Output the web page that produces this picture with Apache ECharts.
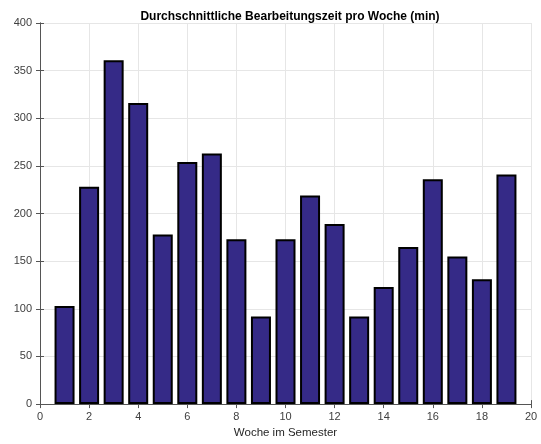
<!DOCTYPE html>
<html>
<head>
<meta charset="utf-8">
<script src="https://cdn.jsdelivr.net/npm/echarts@6/dist/echarts.min.js"></script>
<style>
  html, body { margin: 0; padding: 0; background: #fff; }
  #chart { width: 541px; height: 444px; }
</style>
</head>
<body>
<div id="chart"></div>
<script>
// Woche im Semester / Minuten
const weeks = [1, 2, 3, 4, 5, 6, 7, 8, 9, 10, 11, 12, 13, 14, 15, 16, 17, 18, 19]
const minutes = [103, 228, 361, 316, 178, 254, 263, 173, 92, 173, 219, 189, 92, 123, 165, 236, 155, 131, 241]

const font = 'Liberation Sans, Arial, sans-serif'
const gridColor = '#e6e6e6'
const axisColor = '#555'

const chart = echarts.init(document.getElementById('chart'))

const hiddenAxis = {
  axisLine: { show: true, lineStyle: { color: axisColor, width: 1 } },
  axisTick: { show: true, inside: true, length: 4, lineStyle: { color: axisColor } },
  axisLabel: { show: false },
  splitLine: { show: false }
}

chart.setOption({
  animation: false,
  title: {
    text: 'Durchschnittliche Bearbeitungszeit pro Woche (min)',
    left: 285,
    textAlign: 'center',
    top: 6,
    textStyle: { fontFamily: font, fontSize: 12, fontWeight: 'bold', color: '#000' }
  },
  grid: { left: 40, right: 10, top: 23, bottom: 35, containLabel: false },
  xAxis: [{
    type: 'value',
    min: 0, max: 20, interval: 2,
    name: 'Woche im Semester',
    nameLocation: 'middle',
    nameGap: 21,
    nameTextStyle: { fontFamily: font, fontSize: 11.5, color: '#262626' },
    axisLine: { show: true, onZero: false, lineStyle: { color: axisColor } },
    axisTick: { show: true, inside: true, length: 4, lineStyle: { color: axisColor } },
    axisLabel: { fontFamily: font, fontSize: 11, color: '#404040', margin: 7 },
    splitLine: { show: true, lineStyle: { color: gridColor } }
  }, {
    type: 'value', position: 'top', min: 0, max: 20, interval: 2, ...hiddenAxis
  }],
  yAxis: [{
    type: 'value',
    min: 0, max: 400, interval: 50,
    axisLine: { show: true, lineStyle: { color: axisColor } },
    axisTick: { show: true, inside: true, length: 4, lineStyle: { color: axisColor } },
    axisLabel: { fontFamily: font, fontSize: 11, color: '#404040', margin: 8 },
    splitLine: { show: true, lineStyle: { color: gridColor } }
  }, {
    type: 'value', position: 'right', min: 0, max: 400, interval: 50, ...hiddenAxis
  }],
  series: [{
    type: 'bar',
    xAxisIndex: 0,
    yAxisIndex: 0,
    barWidth: 20,
    data: weeks.map((w, i) => [w, minutes[i]]),
    itemStyle: { color: '#352a87', borderColor: '#000', borderWidth: 2 }
  }]
})
</script>
</body>
</html>
